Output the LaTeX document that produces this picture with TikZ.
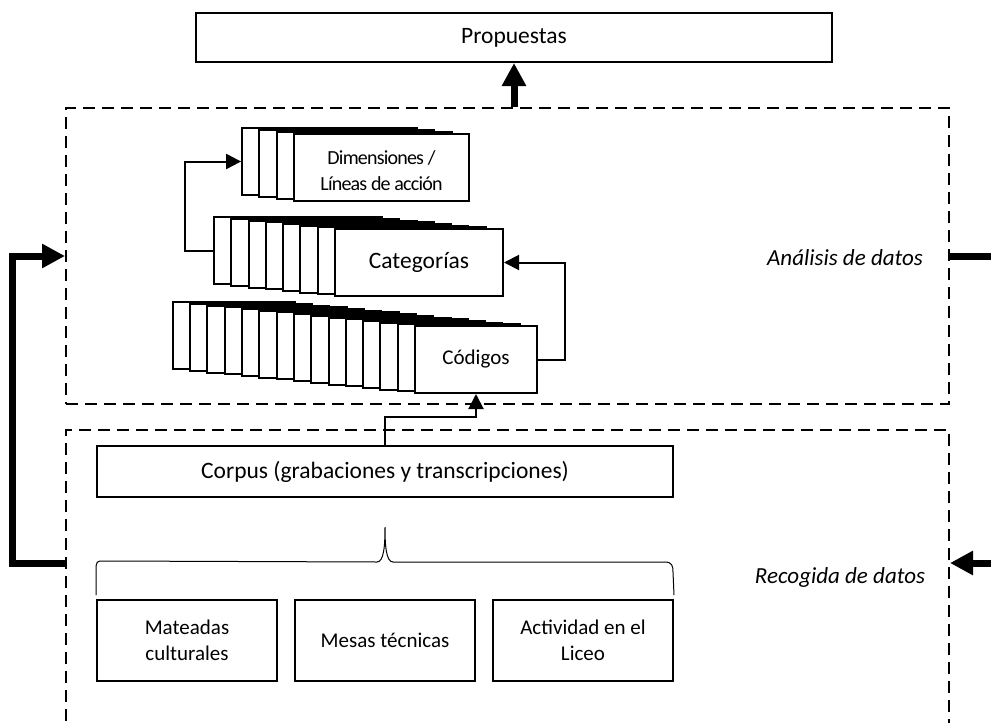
\documentclass[tikz,border=0pt]{standalone}
\usepackage{fontspec}
\setmainfont{Carlito}
\usetikzlibrary{arrows.meta}
\begin{document}
\begin{tikzpicture}[x=1pt,y=-1pt,
  box/.style={draw, line width=2pt, fill=white, inner sep=0pt, align=center},
  card/.style={box, minimum height=67pt},
  dashbox/.style={draw, line width=2pt, dash pattern=on 12pt off 7pt, inner sep=0pt},
  link/.style={line width=2pt, -{Triangle[length=15pt,width=15pt]}},
  bigarrow/.style={line width=7pt, -{Triangle[length=23pt,width=23pt]}},
  bigline/.style={line width=7pt},
  big/.style={font=\fontsize{23.5}{28}\selectfont},
  mid/.style={font=\fontsize{21}{26}\selectfont},
  small/.style={font=\fontsize{20}{26}\selectfont\addfontfeature{LetterSpace=-4}},
  side/.style={font=\fontsize{23}{28}\selectfont\itshape, inner sep=0pt}]
\useasboundingbox (0,0) rectangle (991,723);

% phase containers
\node[dashbox, minimum width=883pt, minimum height=296pt] (analisis) at (507.5,256) {};
\node[dashbox, minimum width=883pt, minimum height=330pt] (recogida) at (507.5,595) {};
\node[side] (lblA) at (845,258) {Análisis de datos};
\node[side] (lblR) at (840,577) {Recogida de datos};

% result
\node[box, big, minimum width=636pt, minimum height=49pt] (propuestas) at (514,37.5) {Propuestas};

% stacked cards: dimensions
\foreach \i in {3,2,1}
  \node[card, minimum width=175pt, anchor=north west] (dim-\i) at ({293-17.3*\i},{133-2*\i}) {};
\node[card, small, minimum width=175pt, anchor=north west] (dim) at (293,133)
  {\raisebox{-5pt}[\height][\depth]{\begin{tabular}{@{}c@{}}Dimensiones /\\Líneas de acción\end{tabular}}};

% stacked cards: categories
\foreach \i in {7,6,...,1}
  \node[card, minimum width=168pt, anchor=north west] (cat-\i) at ({334-17.3*\i},{228-1.7*\i}) {};
\node[card, big, minimum width=168pt, anchor=north west] (cat) at (334,228) {Categorías};

% stacked cards: codes
\foreach \i in {14,13,...,1}
  \node[card, minimum width=122pt, anchor=north west] (cod-\i) at ({414-17.3*\i},{325-1.7*\i}) {};
\node[card, mid, minimum width=122pt, anchor=north west] (cod) at (414,325) {Códigos};

% corpus and sources
\node[box, big, minimum width=576pt, minimum height=51pt] (corpus) at (385,471.5) {Corpus (grabaciones y transcripciones)};
\node[box, mid, minimum width=180pt, minimum height=81pt] (mat) at (187,640.5) {Mateadas\\culturales};
\node[box, mid, minimum width=180pt, minimum height=81pt] (mesas) at (385,640.5) {Mesas técnicas};
\node[box, mid, minimum width=180pt, minimum height=81pt] (liceo) at (583,640.5) {Actividad en el\\Liceo};

% brace grouping the sources
\draw[line width=1pt] (mat.north west) ++(0,-4) -- ++(0,-24)
  .. controls ++(0,-10) and ++(-6,0) .. ++(7,-10) -- (377,562)
  .. controls (384,562) and (385,545) .. (385,527)
  .. controls (385,545) and (386,562) .. (393,562) -- (665,562)
  .. controls (672,562) and (673,566) .. (673,572) -- ([yshift=4pt]liceo.north east);

% flows between cards
\draw[link] (corpus.north) -- ++(0,-28) -| (cod.south);
\draw[link] (cod.east) -- ++(27,0) |- (cat.east);
\draw[link] (cat-7.west) -- ++(-28,0) |- (dim-3.west);

% flows between phases
\draw[bigarrow] (propuestas.south |- analisis.north) -- (propuestas.south);
\draw[bigarrow] ([yshift=32pt]recogida.west) -- ++(-53,0) |- (analisis.west);
\coordinate (outA) at (1000,256);
\coordinate (inR) at (1000,563);
\draw[bigline] (analisis.east) -- (outA);
\draw[bigarrow] (inR) -- ([yshift=32pt]recogida.east);
\end{tikzpicture}
\end{document}
